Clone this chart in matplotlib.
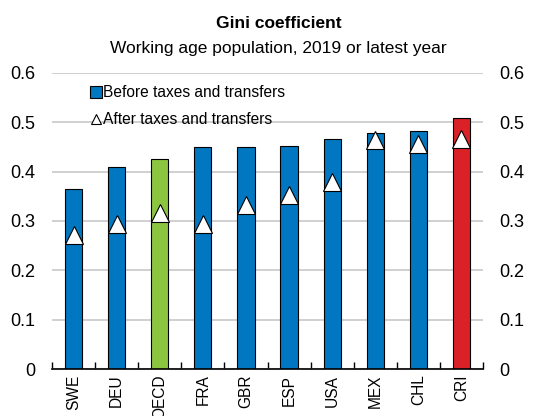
import numpy as np
import matplotlib.pyplot as plt
from matplotlib.lines import Line2D

countries = ["SWE", "DEU", "OECD", "FRA", "GBR", "ESP", "USA", "MEX", "CHL", "CRI"]
before = [0.364, 0.409, 0.426, 0.450, 0.450, 0.453, 0.467, 0.478, 0.483, 0.508]
after = [0.271, 0.293, 0.316, 0.293, 0.333, 0.352, 0.380, 0.464, 0.456, 0.467]

blue = "#0077c0"
green = "#8cc641"
red = "#da2128"
colors = [green if c == "OECD" else red if c == "CRI" else blue for c in countries]

plt.rcParams['font.family'] = ['Liberation Sans', 'DejaVu Sans']

fig = plt.figure(figsize=(5.57, 4.16), dpi=100)
ax = fig.add_axes([52 / 557, 1 - 369 / 416, 431 / 557, 296 / 416])

x = np.arange(len(countries))
ax.bar(x, before, width=0.4, color=colors, edgecolor="black", linewidth=0.8, zorder=2)
ax.plot(x, after, linestyle="none", marker="^", markersize=13,
        markerfacecolor="white", markeredgecolor="black", markeredgewidth=0.8, zorder=3)

ax.set_xlim(-0.5, len(countries) - 0.5)
ax.set_ylim(0, 0.6)
ax.set_yticks(np.arange(0, 0.61, 0.1))
ax.set_yticklabels(["0", "0.1", "0.2", "0.3", "0.4", "0.5", "0.6"])
ax.yaxis.grid(True, color="#c8c8c8", linewidth=1.2, zorder=0)
ax.set_axisbelow(True)
ax.tick_params(axis="y", length=0, labelsize=13, pad=12, labelright=True, right=False)

ax.set_xticks(x)
ax.set_xticklabels(countries, rotation=90, fontsize=11.2)
ax.set_xticks(np.arange(-0.5, len(countries)), minor=True)
ax.tick_params(axis="x", which="major", length=0, pad=4)
ax.tick_params(axis="x", which="minor", direction="in", length=5, width=1)

for s in ["top", "left", "right"]:
    ax.spines[s].set_visible(False)
ax.spines["bottom"].set_linewidth(1.2)

fig.text(0.5, 1 - 23 / 416, "Gini coefficient", ha="center", va="center",
         fontsize=12.5, fontweight="bold")
fig.text(0.5, 1 - 49 / 416, "Working age population, 2019 or latest year",
         ha="center", va="center", fontsize=12.5)

handles = [
    Line2D([], [], linestyle="none", marker="s", markersize=8,
           markerfacecolor=blue, markeredgecolor="black", markeredgewidth=0.8),
    Line2D([], [], linestyle="none", marker="^", markersize=7,
           markerfacecolor="white", markeredgecolor="black", markeredgewidth=0.8),
]
ax.legend(handles, ["Before taxes and transfers", "After taxes and transfers"],
          loc="upper left", bbox_to_anchor=(0.065, 0.995), frameon=False,
          fontsize=11.2, handlelength=0.6, handletextpad=0.15, labelspacing=0.75,
          borderaxespad=0.3)

fig.savefig("out.png", dpi=100)
